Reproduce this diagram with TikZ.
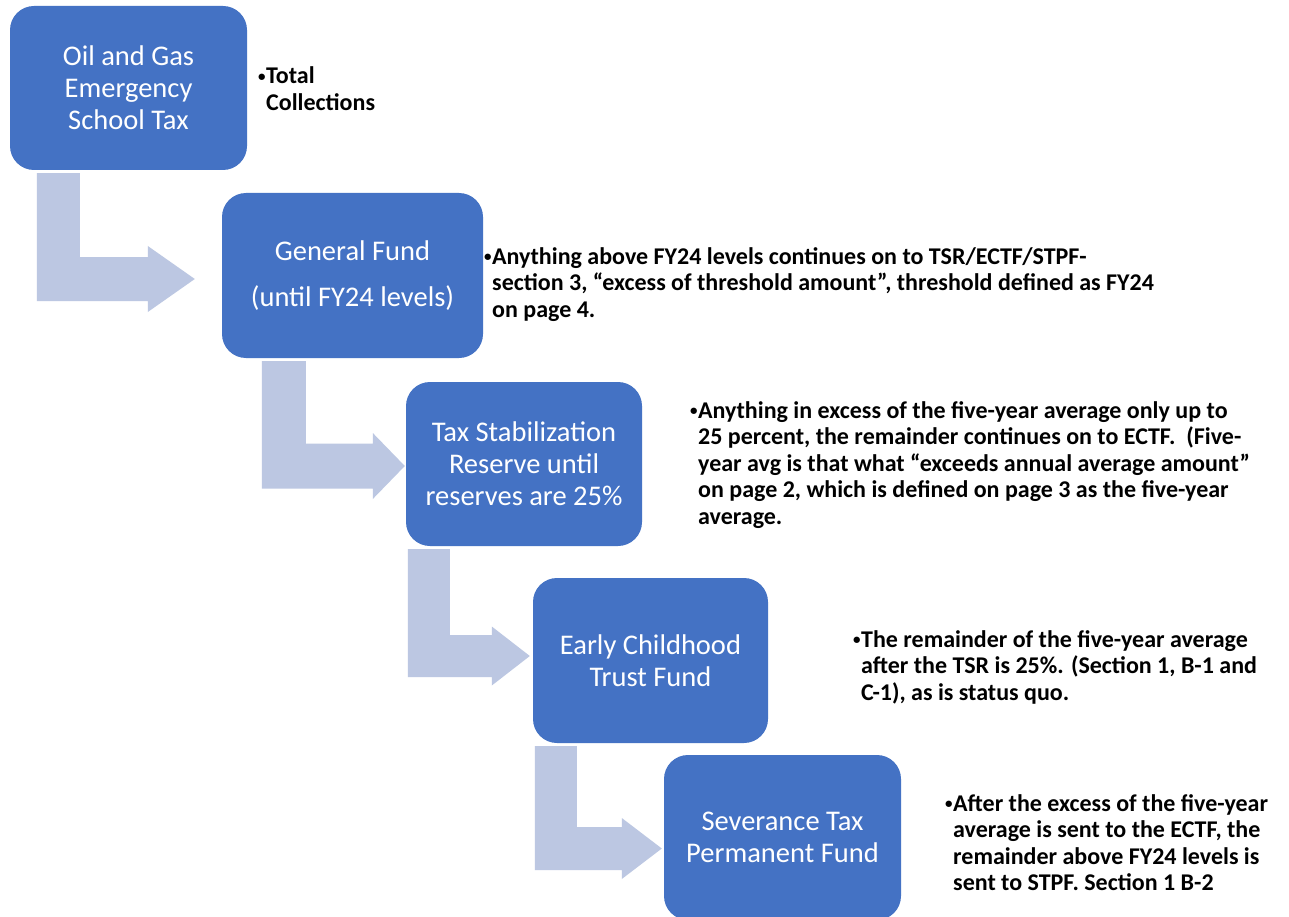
\documentclass[tikz,border=0pt]{standalone}
\usepackage{fontspec}
\setmainfont{Carlito}
\usetikzlibrary{calc}
\definecolor{boxblue}{RGB}{68,114,196}
\definecolor{arrowblue}{RGB}{188,199,226}
% bent step-down arrow: #1 from node, #2 to node, #3 x offset of the stem from #1.south west,
% #4 stem width, #5/#6 tip offset from #2.west, #7 head length, #8 bar half height, #9 head half height
\newcommand\bentarrow[9]{%
  \fill[arrowblue] let \p1=($(#1.south west)+(#3,3)$), \p2=($(#2.west)+(#5,#6)$) in
    (\x1,\y1) -- (\x1+#4pt,\y1) -- (\x1+#4pt,\y2+#8pt) -- (\x2-#7pt,\y2+#8pt)
    -- (\x2-#7pt,\y2+#9pt) -- (\x2,\y2) -- (\x2-#7pt,\y2-#9pt) -- (\x2-#7pt,\y2-#8pt)
    -- (\x1,\y2-#8pt) -- cycle;}
\newcommand\smallbul{\raisebox{2.5pt}{\fontsize{15}{15}\selectfont•}\hspace{0.5pt}}
\begin{document}
\begin{tikzpicture}[x=1pt,y=-1pt,
  stepbox/.style={rectangle, rounded corners=24pt, fill=boxblue, draw=none, text=white,
    align=center, inner sep=0pt, font=\fontsize{28.5}{32}\selectfont},
  note/.style={anchor=base west, inner sep=0pt, text=black,
    font=\fontsize{24}{26.5}\selectfont\bfseries}]
\useasboundingbox (0,0) rectangle (1289,917);
\clip (0,0) rectangle (1289,917);
\fill[white] (0,0) rectangle (1289,917);

\node[stepbox, minimum width=237pt, minimum height=164pt] (b1) at (128.5,88)
  {Oil and Gas\\Emergency\\School Tax};
\node[stepbox, minimum width=261pt, minimum height=165pt] (b2) at (352.5,275.5)
  {General Fund\\[14pt](until FY24 levels)};
\node[stepbox, minimum width=236pt, minimum height=164pt] (b3) at (524,464)
  {Tax Stabilization\\Reserve until\\reserves are 25\%};
\node[stepbox, minimum width=235pt, minimum height=165pt] (b4) at (650.5,660.5)
  {Early Childhood\\Trust Fund};
\node[stepbox, minimum width=237pt, minimum height=165pt] (b5) at (782.5,837.5)
  {Severance Tax\\Permanent Fund};

\bentarrow{b1}{b2}{27}{43}{-27}{3.5}{47}{22}{33}
\bentarrow{b2}{b3}{40}{44}{-1}{2}{32}{22.5}{33}
\bentarrow{b3}{b4}{2}{42}{-3}{-4.5}{38}{21}{29.5}
\bentarrow{b4}{b5}{2}{42}{-2}{11}{40}{21.5}{30.5}

\node[note] (t1) at (258,84)
  {\smallbul\begin{tabular}[t]{@{}l@{}}Total\\Collections\end{tabular}};
\node[note] (t2) at (484,264)
  {\smallbul\begin{tabular}[t]{@{}l@{}}Anything above FY24 levels continues on to TSR/ECTF/STPF-\\
   section 3, “excess of threshold amount”, threshold defined as FY24\\
   on page 4.\end{tabular}};
\node[note] (t3) at (690,418)
  {\smallbul\begin{tabular}[t]{@{}l@{}}Anything in excess of the five-year average only up to\\
   25 percent, the remainder continues on to ECTF. \ (Five-\\
   year avg is that what “exceeds annual average amount”\\
   on page 2, which is defined on page 3 as the five-year\\
   average.\end{tabular}};
\node[note] (t4) at (853,647)
  {\smallbul\begin{tabular}[t]{@{}l@{}}The remainder of the five-year average\\
   after the TSR is 25\%. (Section 1, B-1 and\\
   C-1), as is status quo.\end{tabular}};
\node[note] (t5) at (945,811)
  {\smallbul\begin{tabular}[t]{@{}l@{}}After the excess of the five-year\\
   average is sent to the ECTF, the\\
   remainder above FY24 levels is\\
   sent to STPF. Section 1 B-2\end{tabular}};
\end{tikzpicture}
\end{document}
